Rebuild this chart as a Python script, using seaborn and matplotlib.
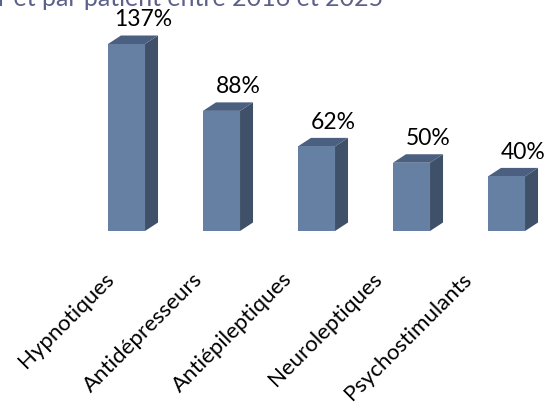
import matplotlib
matplotlib.use("Agg")
import matplotlib.pyplot as plt
import seaborn as sns
import pandas as pd
from matplotlib.patches import Polygon
from matplotlib.transforms import offset_copy

categories = ["Hypnotiques", "Antidépresseurs", "Antiépileptiques", "Neuroleptiques", "Psychostimulants"]
values = [137, 88, 62, 50, 40]
value_labels = ["137%", "88%", "62%", "50%", "40%"]
title_text = "r et par patient entre 2016 et 2025"

FRONT = "#6580A3"
SIDE = "#3F5069"
TOP = "#4B6080"
FONT = ["Lato", "DejaVu Sans"]

sns.set_theme(style="white")
plt.rcParams['font.family'] = FONT

W, H = 551, 414
fig = plt.figure(figsize=(W / 100, H / 100), dpi=100)
left_px = 126.5 - 0.5 * 95
right_px = 551
ax = fig.add_axes([left_px / W, (H - 232) / H, (right_px - left_px) / W, 150 * 1.365 / H])

df = pd.DataFrame({"cat": categories, "val": values})
sns.barplot(data=df, x="cat", y="val", color=FRONT, saturation=1, width=0.39, ax=ax,
            edgecolor="none", linewidth=0, zorder=3)
ax.set_xlim(-0.5, (right_px - 126.5) / 95)
ax.set_ylim(0, 150)

dx = 13 / 95
dy = 8.5 / 1.365
for p in list(ax.patches):
    x0 = p.get_x(); w = p.get_width(); h = p.get_height()
    x1 = x0 + w
    side = Polygon([(x1, 0), (x1 + dx, dy), (x1 + dx, h + dy), (x1, h)], closed=True,
                   facecolor=SIDE, edgecolor="none", zorder=2)
    top = Polygon([(x0, h), (x0 + dx, h + dy), (x1 + dx, h + dy), (x1, h)], closed=True,
                  facecolor=TOP, edgecolor="none", zorder=2)
    ax.add_patch(side); ax.add_patch(top)

for i, (v, lab) in enumerate(zip(values, value_labels)):
    ax.annotate(lab, xy=(i, v), xytext=(17 * 0.72, 25 * 0.72), textcoords="offset points",
                ha="center", va="center", fontsize=16.5, color="black", annotation_clip=False)

ax.set_xticks([])
ax.set_yticks([])
ax.set_xlabel(""); ax.set_ylabel("")
for s in ax.spines.values():
    s.set_visible(False)
label_tr = offset_copy(ax.transData, fig=fig, x=0, y=-44 * 0.72, units="points")
for i, c in enumerate(categories):
    xpos = i - 0.17 - 0.0575 * i
    ax.text(xpos, 0, c, transform=label_tr, rotation=45, rotation_mode="anchor",
            ha="right", va="center", fontsize=16, color="black", clip_on=False)

fig.text(383 / W, (H - 6) / H, title_text, ha="right", va="baseline",
         fontsize=18, color="#5B6189")

fig.savefig("out.png", dpi=100)
